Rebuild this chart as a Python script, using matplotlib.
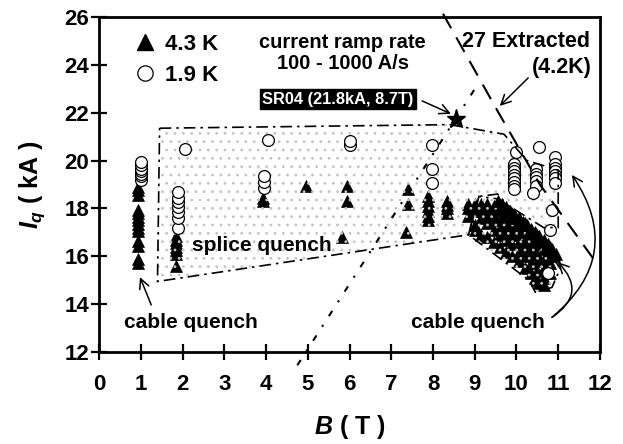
import numpy as np
import matplotlib.pyplot as plt
from matplotlib.patches import Polygon, FancyArrowPatch
from matplotlib.lines import Line2D

plt.rcParams['font.family'] = ['Liberation Sans', 'DejaVu Sans']
plt.rcParams['font.weight'] = 'bold'
plt.rcParams['mathtext.fontset'] = 'custom'
plt.rcParams['mathtext.it'] = 'Liberation Sans:bold:italic'
plt.rcParams['mathtext.rm'] = 'Liberation Sans:bold'
plt.rcParams['hatch.linewidth'] = 0.8

# 4.3 K quench points (filled triangles)
b_43 = [0.93] * 14 + [1.85] * 7 + [3.93, 3.93, 4.96, 5.94, 5.94, 5.82,
        7.4, 7.4, 7.35] + [7.88] * 6 + [8.33] * 4 + \
       [8.85] * 3 + [9.0] * 4 + [9.15] * 4 + [9.3] * 5 + [9.45] * 5 + \
       [9.6] * 5 + [9.75] * 5 + [9.9] * 6 + [10.05] * 6 + [10.2] * 6 + \
       [10.35] * 6 + [10.5] * 6 + [10.65] * 6 + [10.8] * 4 + [10.45, 10.55]
iq_43 = [15.7, 15.9, 16.45, 16.65, 17.05, 17.2, 17.35, 17.5, 17.65, 17.8, 17.95, 18.55, 18.75, 18.9,
         15.6, 16.1, 16.25, 16.4, 16.55, 16.7, 16.85,
         18.3, 18.45, 18.95, 18.95, 18.3, 16.8,
         18.8, 18.2, 17.0,
         17.5, 17.7, 17.9, 18.1, 18.3, 18.5,
         17.8, 18.0, 18.15, 18.3,
         18.2, 18.0, 17.7,
         18.2, 17.9, 17.3, 17.1,
         18.2, 17.9, 17.6, 16.9,
         18.2, 18.0, 17.7, 17.4, 16.8,
         18.1, 17.8, 17.5, 17.1, 16.6,
         17.9, 17.6, 17.2, 16.9, 16.4,
         17.7, 17.4, 17.1, 16.7, 16.2,
         17.8, 17.5, 17.2, 16.9, 16.5, 16.0,
         17.6, 17.3, 17.0, 16.6, 16.2, 15.8,
         17.4, 17.0, 16.7, 16.4, 16.0, 15.5,
         17.1, 16.8, 16.4, 16.1, 15.7, 15.3,
         16.9, 16.5, 16.1, 15.8, 15.4, 15.0,
         16.6, 16.3, 15.9, 15.5, 15.1, 14.8,
         16.4, 16.1, 15.7, 15.3,
         15.1, 14.9]

# 4.3 K points along the upper edge of the high-field band
b_43_top = [9.55, 9.65, 9.75, 9.85, 9.95, 10.05, 10.15, 10.25, 10.35, 10.45, 10.55,
            10.65, 10.75, 10.85, 10.95, 9.7, 9.9, 10.1, 10.3, 10.5, 10.7, 10.9]
iq_43_top = [18.3, 18.2, 18.05, 17.9, 17.75, 17.6, 17.45, 17.3, 17.15, 17.0, 16.85,
             16.7, 16.5, 16.3, 16.1, 17.9, 17.6, 17.3, 17.0, 16.7, 16.4, 16.0]

# 1.9 K quench points (open circles)
b_19 = [1.0] * 7 + [1.9] * 7 + [2.06] + [3.95] * 3 + [4.05, 6.0, 6.0, 7.98, 7.98, 7.98] + \
       [10.0] + [9.95] * 8 + [10.55] + [10.47] * 5 + [10.4] + \
       [10.92] * 7 + [10.85, 10.8, 10.75]
iq_19 = [19.2, 19.35, 19.45, 19.55, 19.65, 19.8, 19.95,
         17.2, 17.6, 17.85, 18.05, 18.25, 18.45, 18.7,
         20.5,
         18.85, 19.1, 19.35,
         20.86, 20.65, 20.8, 19.05, 19.65, 20.65,
         20.35, 19.85, 19.7, 19.55, 19.4, 19.25, 19.1, 18.95, 18.8,
         20.55, 19.65, 19.45, 19.3, 19.15, 18.95, 18.65,
         20.15, 19.85, 19.7, 19.55, 19.4, 19.25, 19.05, 17.95, 17.1, 15.3]

# SR04 point
b_sr04, iq_sr04 = 8.55, 21.75

# region outlines
splice_region = [(1.45, 21.35), (8.4, 21.5), (9.7, 21.1), (10.25, 20.0), (11.0, 19.6),
                 (11.0, 17.2), (10.65, 17.2), (9.55, 18.4), (9.1, 18.5),
                 (8.85, 16.9), (1.4, 14.95)]
cable_region = [(8.85, 16.9), (9.1, 18.5), (9.55, 18.6), (10.9, 15.85), (11.05, 15.5),
                (10.85, 14.7), (10.45, 14.5), (10.3, 15.0)]
load_b = [4.75, 9.08]
load_iq = [11.45, 23.2]
extr_b = [8.24, 9.56, 10.56, 11.95]
extr_iq = [26.13, 22.03, 19.0, 15.64]

fig, ax = plt.subplots(figsize=(6.23, 4.44), dpi=100)
fig.subplots_adjust(left=0.159, right=0.963, bottom=0.207, top=0.962)

# quench regions (dotted fill + dash-dot outline)
for pts in (splice_region, cable_region):
    ax.add_patch(Polygon(pts, closed=True, facecolor='none', edgecolor='#c4c4c4',
                         linewidth=0, hatch='..', zorder=3))
    ax.add_patch(Polygon(pts, closed=True, facecolor='none', edgecolor='black',
                         linewidth=1.2, linestyle=(0, (7, 3, 1.5, 3)), zorder=6))

ax.plot(b_43, iq_43, linestyle='none', marker='^', ms=8.5, color='black', mew=0.5, zorder=2)
ax.plot(b_43_top, iq_43_top, linestyle='none', marker='^', ms=8.5, color='black', mew=0.5, zorder=4)
ax.plot(b_19, iq_19, linestyle='none', marker='o', ms=8.5, mfc='white', mec='black',
        mew=0.9, zorder=5)

ax.plot(load_b, load_iq, color='black', lw=1.5, linestyle=(0, (3, 5, 1, 5)),
        clip_on=False, zorder=7)
ax.plot(extr_b, extr_iq, color='black', lw=1.5, linestyle=(0, (8, 5)),
        clip_on=False, zorder=7)
ax.plot([b_sr04], [iq_sr04], marker='*', ms=14, color='black', linestyle='none', zorder=8)

# texts
ax.text(5.84, 24.5, 'current ramp rate\n100 - 1000 A/s', ha='center', va='center',
        fontsize=14.5, fontweight='bold', linespacing=1.1)
ax.text(10.22, 24.96, '27 Extracted', ha='center', va='center', fontsize=15.5, fontweight='bold')
ax.text(11.8, 23.87, '(4.2K)', ha='right', va='center', fontsize=15.5, fontweight='bold')
ax.text(5.72, 22.57, 'SR04 (21.8kA, 8.7T)', ha='center', va='center', fontsize=11.8,
        fontweight='bold', color='white',
        bbox=dict(boxstyle='square,pad=0.15', facecolor='black', edgecolor='black'), zorder=9)
ax.text(3.9, 16.47, 'splice quench', ha='center', va='center', fontsize=15,
        fontweight='bold', zorder=9)
ax.text(2.2, 13.25, 'cable quench', ha='center', va='center', fontsize=15, fontweight='bold')
ax.text(9.08, 13.25, 'cable quench', ha='center', va='center', fontsize=15, fontweight='bold')

# arrows
def arrow(p0, p1, rad=0.0):
    ax.add_patch(FancyArrowPatch(p0, p1, arrowstyle='->,head_length=7,head_width=3.5',
                                 connectionstyle=f'arc3,rad={rad}', color='black',
                                 lw=1.1, shrinkA=0, shrinkB=0, clip_on=False, zorder=9,
                                 mutation_scale=1))

arrow((10.28, 23.45), (9.6, 22.28))
arrow((7.74, 22.49), (8.43, 21.95))
arrow((1.25, 13.97), (0.98, 15.13))
arrow((10.85, 13.45), (10.99, 15.76), rad=0.6)
arrow((10.85, 13.45), (11.33, 19.4), rad=0.45)

legend_handles = [Line2D([], [], linestyle='none', marker='^', ms=11, color='black'),
                  Line2D([], [], linestyle='none', marker='o', ms=11, mfc='white',
                         mec='black', mew=0.9)]
ax.legend(legend_handles, ['4.3 K', '1.9 K'], loc='upper left', bbox_to_anchor=(0.03, 1.01),
          frameon=False, handlelength=1.0, handletextpad=0.4, labelspacing=0.45,
          prop={'size': 16, 'weight': 'bold'})

ax.set_xlim(0, 12)
ax.set_ylim(12, 26)
ax.set_xticks(np.arange(0, 13, 1))
ax.set_yticks(np.arange(12, 27, 2))
ax.tick_params(direction='inout', length=12, width=1.6, labelsize=16)
ax.tick_params(axis='x', pad=10)
ax.tick_params(axis='y', pad=1)
for lab in ax.get_xticklabels() + ax.get_yticklabels():
    lab.set_fontweight('bold')
for sp in ax.spines.values():
    sp.set_linewidth(2.0)
ax.set_xlabel('$B$ ( T )', fontsize=18, fontweight='bold', labelpad=13)
ax.set_ylabel('$I_q$ ( kA )', fontsize=18, fontweight='bold', labelpad=13)

fig.savefig('out.png', dpi=100)
